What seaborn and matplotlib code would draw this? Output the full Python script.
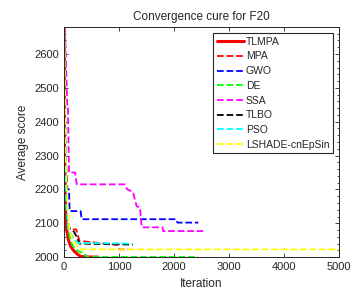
import numpy as np
import pandas as pd
import matplotlib
matplotlib.use("Agg")
import matplotlib.pyplot as plt
import seaborn as sns
from matplotlib.ticker import MultipleLocator

# values (iteration, average score) at the curve corners
tlmpa_it = [1, 5, 15, 30, 50, 80, 120, 160, 200, 250, 300, 400, 620]
tlmpa_y = [2750, 2400, 2200, 2110, 2078, 2050, 2032, 2022, 2015, 2008, 2002, 2000.5, 2000]

mpa_it = [1, 10, 30, 60, 100, 220, 240, 280, 980, 1000, 1160]
mpa_y = [2750, 2400, 2200, 2110, 2082, 2082, 2070, 2048, 2036, 2023, 2023]

gwo_it = [1, 10, 30, 60, 90, 100, 300, 320, 2040, 2060, 2440]
gwo_y = [2750, 2500, 2300, 2200, 2200, 2136, 2136, 2112, 2112, 2102, 2102]

de_it = [1, 10, 30, 60, 100, 150, 250, 380, 400, 2440]
de_y = [2750, 2400, 2200, 2100, 2060, 2035, 2018, 2010, 2000.5, 2000.5]

ssa_it = [1, 60, 70, 90, 200, 230, 1100, 1150, 1250, 1320, 1380, 1410, 1790, 1800, 2530]
ssa_y = [2750, 2440, 2440, 2250, 2250, 2215, 2215, 2200, 2193, 2150, 2147, 2088, 2088, 2077, 2077]

tlbo_it = [1, 20, 50, 100, 180, 230, 280, 1250]
tlbo_y = [2750, 2300, 2120, 2085, 2075, 2060, 2040, 2037]

pso_it = [1, 15, 40, 80, 150, 250, 1250]
pso_y = [2750, 2400, 2150, 2080, 2060, 2042, 2040]

lsh_it = [1, 10, 30, 60, 100, 150, 250, 300, 5000]
lsh_y = [2750, 2600, 2300, 2150, 2080, 2055, 2030, 2023, 2023]

series = [
    ("TLMPA", tlmpa_it, tlmpa_y, "#ff0000", "-"),
    ("MPA", mpa_it, mpa_y, "#ff0000", "--"),
    ("GWO", gwo_it, gwo_y, "#0000ff", "--"),
    ("DE", de_it, de_y, "#00ff00", "--"),
    ("SSA", ssa_it, ssa_y, "#ff00ff", "--"),
    ("TLBO", tlbo_it, tlbo_y, "#000000", "--"),
    ("PSO", pso_it, pso_y, "#00ffff", "--"),
    ("LSHADE-cnEpSin", lsh_it, lsh_y, "#ffff00", "--"),
]

sns.set_style("ticks")
plt.rcParams['font.family'] = ['Liberation Sans', 'DejaVu Sans']

fig = plt.figure(figsize=(3.6, 2.99), dpi=100)
ax = fig.add_axes([0.178, 0.140, 0.764, 0.770])

for name, it, y, col, ls in series:
    df = pd.DataFrame({"Iteration": it, "score": y})
    sns.lineplot(data=df, x="Iteration", y="score", ax=ax, color=col,
                 linestyle=ls, linewidth=2.2 if ls == "-" else 1.3,
                 label=name, sort=False, estimator=None)

ax.set_xlim(0, 5000)
ax.set_ylim(2000, 2680)
ax.set_xticks([0, 1000, 2000, 3000, 4000, 5000])
ax.set_yticks([2000, 2100, 2200, 2300, 2400, 2500, 2600])
ax.yaxis.set_minor_locator(MultipleLocator(20))
ax.tick_params(which="both", direction="in", top=True, right=True,
               labelsize=8, color="#262626", width=0.6)
ax.tick_params(which="major", length=3)
ax.tick_params(which="minor", length=1.5)
for s in ax.spines.values():
    s.set_linewidth(0.7)
    s.set_color("#262626")

ax.set_title("Convergence cure for F20", fontsize=8.5, pad=5)
ax.set_xlabel("Iteration", fontsize=8.5)
ax.set_ylabel("Average score", fontsize=8.5)

leg = ax.legend(loc="upper right", fontsize=7.5, handlelength=2.6,
                handletextpad=0.15, labelspacing=0.45, borderpad=0.35,
                borderaxespad=0.6, fancybox=False, framealpha=1)
leg.get_frame().set_edgecolor("#262626")
leg.get_frame().set_linewidth(0.8)

fig.savefig("out.png", dpi=100)
